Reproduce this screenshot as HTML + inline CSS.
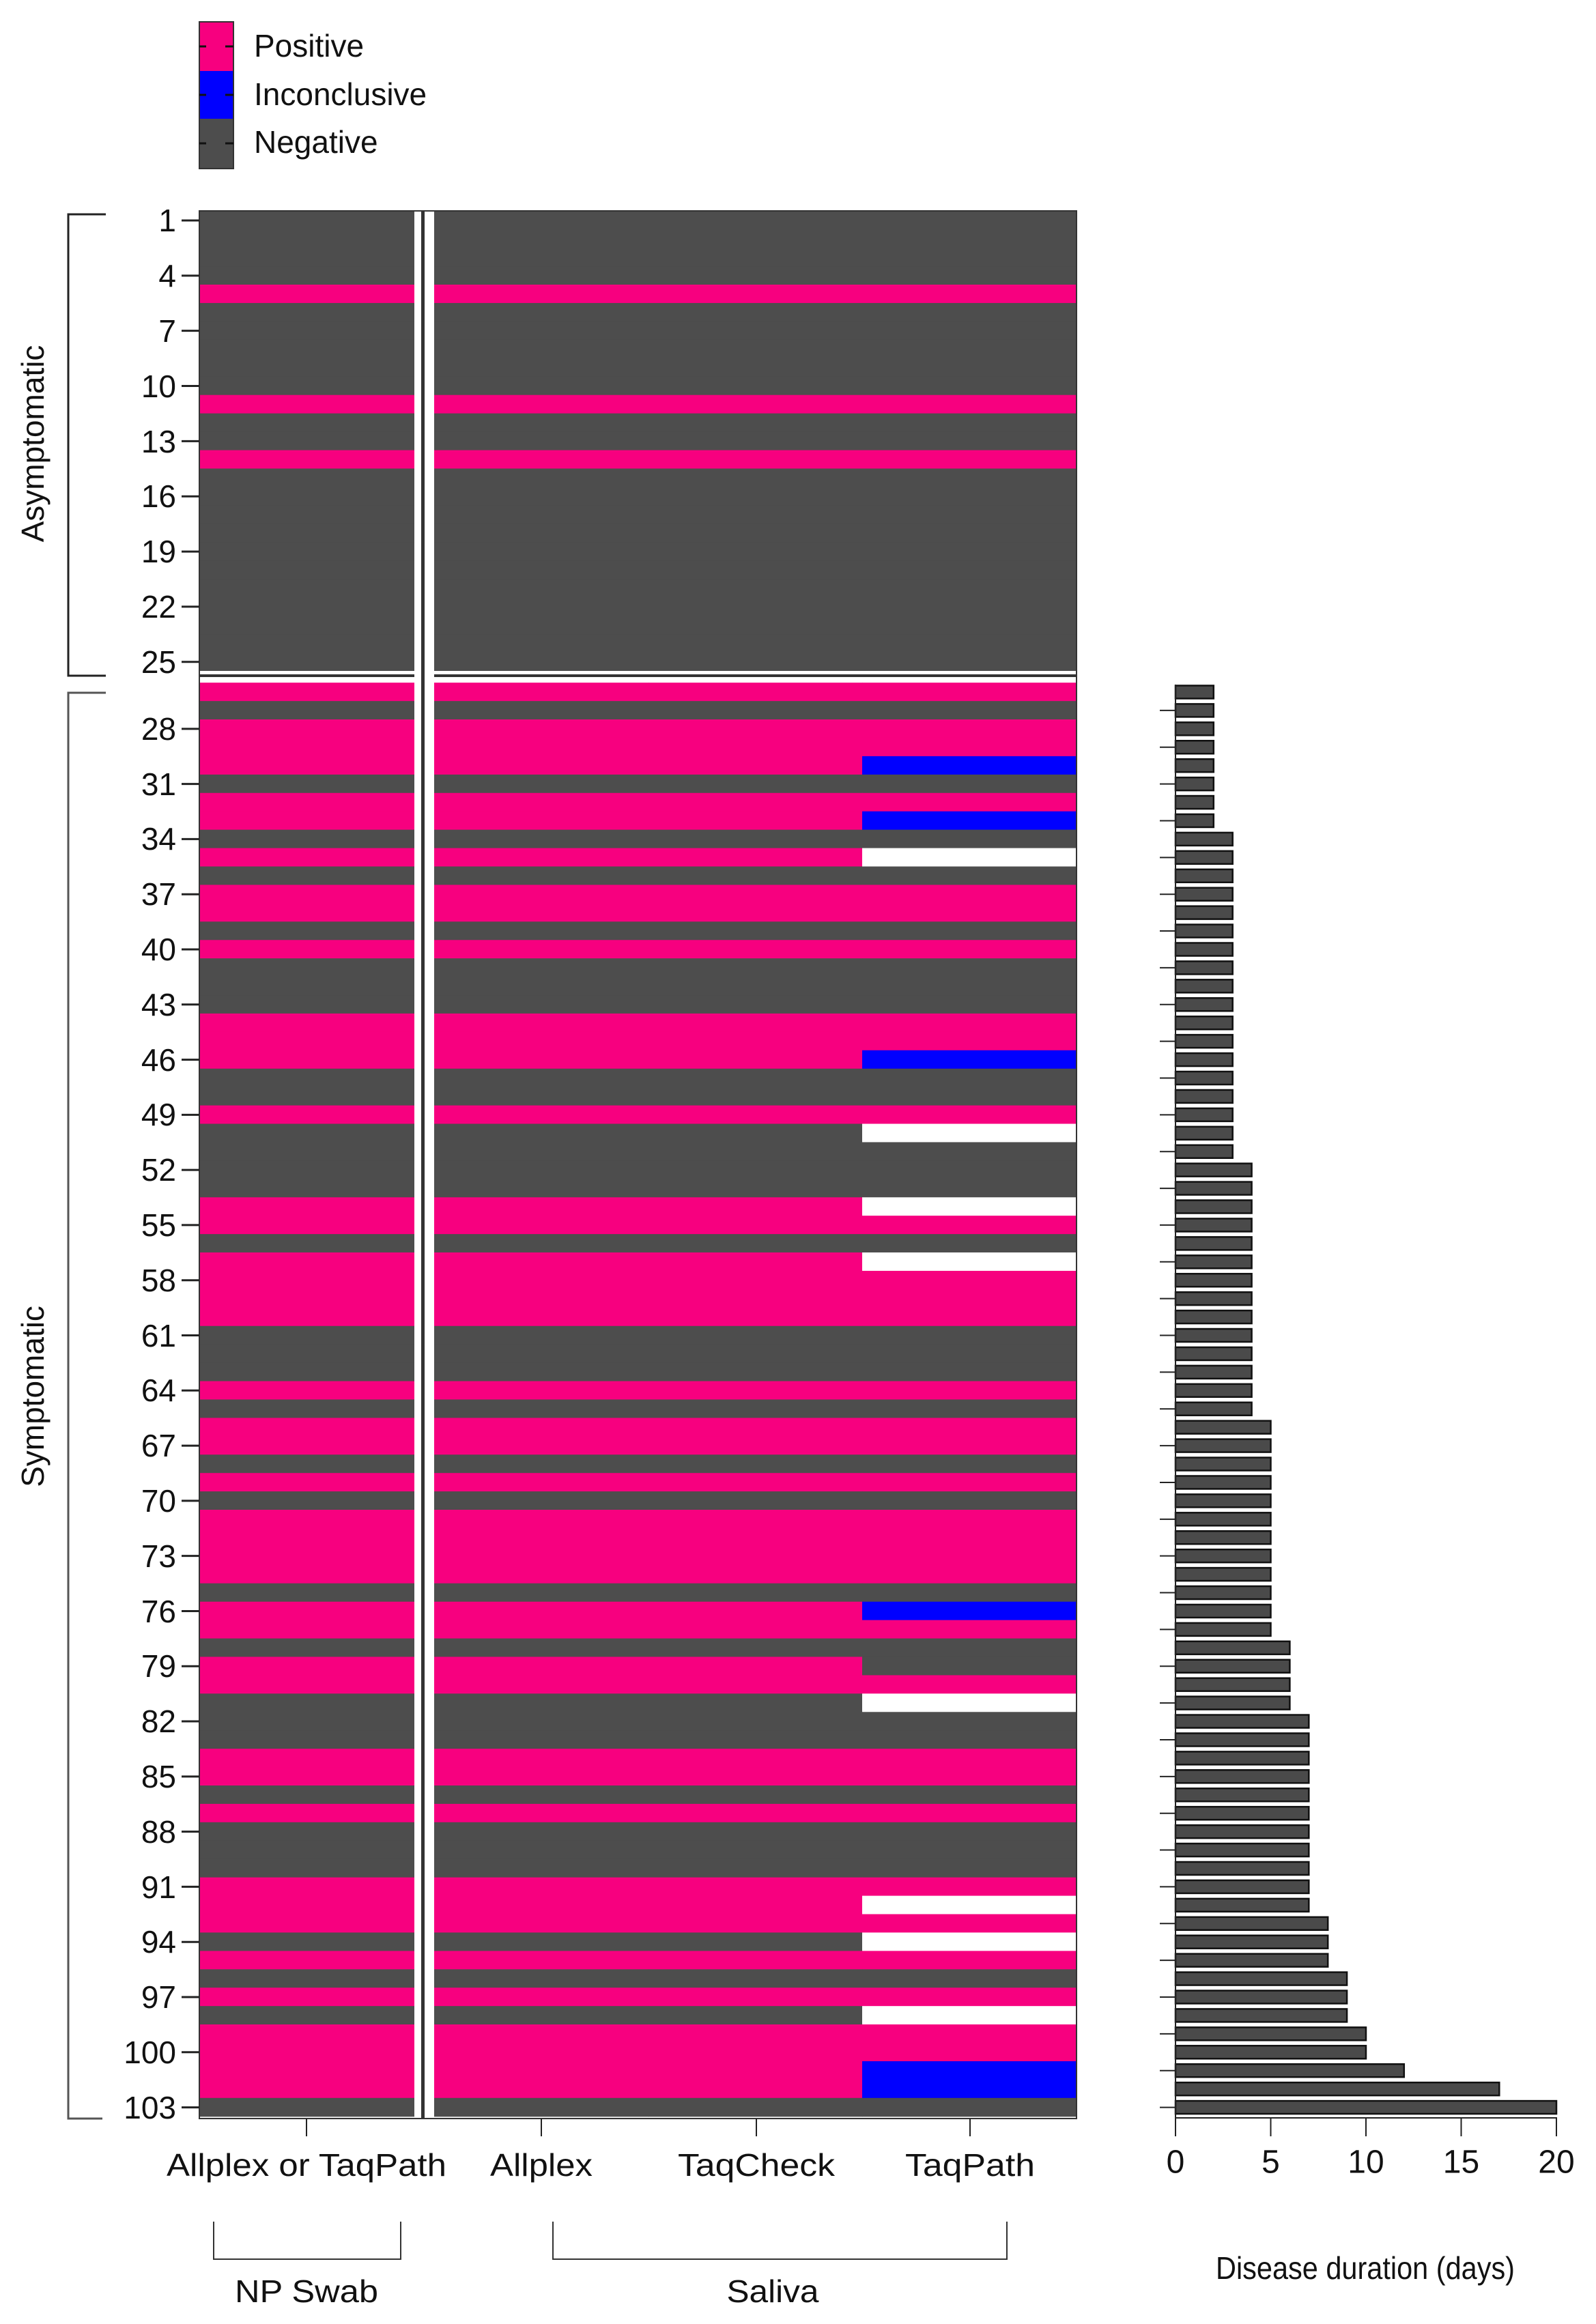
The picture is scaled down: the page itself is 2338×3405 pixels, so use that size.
<!DOCTYPE html>
<html><head><meta charset="utf-8"><style>
html,body{margin:0;padding:0;background:#fff;}
svg{display:block;font-family:"Liberation Sans",Arial,sans-serif;}
</style></head><body>
<svg id="s" width="2338" height="3405" viewBox="0 0 2338 3405" xmlns="http://www.w3.org/2000/svg">
<rect width="2338" height="3405" fill="#fff"/>
<g id="cells"></g>
<g id="bars"></g>
<g id="rticks" stroke="#222" stroke-width="3"></g>
<!-- legend -->
<rect x="292" y="32" width="50" height="72" fill="#F7007F"/>
<rect x="292" y="104" width="50" height="70" fill="#0000FF"/>
<rect x="292" y="174" width="50" height="73" fill="#4D4D4D"/>
<rect x="292" y="32" width="50" height="215" fill="none" stroke="#333" stroke-width="2"/>
<g stroke="#111" stroke-width="3">
<line x1="292" y1="68" x2="302" y2="68"/><line x1="330" y1="68" x2="342" y2="68"/>
<line x1="292" y1="139" x2="302" y2="139"/><line x1="330" y1="139" x2="342" y2="139"/>
<line x1="292" y1="210" x2="302" y2="210"/><line x1="330" y1="210" x2="342" y2="210"/>
</g>
<g font-size="46" fill="#111" dominant-baseline="central">
<text x="372" y="67">Positive</text>
<text x="372" y="138">Inconclusive</text>
<text x="372" y="208">Negative</text>
</g>
<!-- row labels -->
<g font-size="46" fill="#111" text-anchor="end" dominant-baseline="central">
<text x="258" y="323">1</text><text x="258" y="404">4</text><text x="258" y="485">7</text>
<text x="258" y="566">10</text><text x="258" y="647">13</text><text x="258" y="727">16</text>
<text x="258" y="808">19</text><text x="258" y="889">22</text><text x="258" y="970">25</text>
<text x="258" y="1068">28</text><text x="258" y="1149">31</text><text x="258" y="1229">34</text>
<text x="258" y="1310">37</text><text x="258" y="1391">40</text><text x="258" y="1472">43</text>
<text x="258" y="1553">46</text><text x="258" y="1633">49</text><text x="258" y="1714">52</text>
<text x="258" y="1795">55</text><text x="258" y="1876">58</text><text x="258" y="1957">61</text>
<text x="258" y="2037">64</text><text x="258" y="2118">67</text><text x="258" y="2199">70</text>
<text x="258" y="2280">73</text><text x="258" y="2361">76</text><text x="258" y="2441">79</text>
<text x="258" y="2522">82</text><text x="258" y="2603">85</text><text x="258" y="2684">88</text>
<text x="258" y="2765">91</text><text x="258" y="2845">94</text><text x="258" y="2926">97</text>
<text x="258" y="3007">100</text><text x="258" y="3088">103</text>
</g>
<!-- group brackets -->
<g stroke="#222" stroke-width="3" fill="none">
<polyline points="155,314 100,314 100,990 155,990"/>
<polyline points="155,1015 100,1015 100,3104 150,3104" stroke="#555"/>
</g>
<g font-size="46" fill="#111" text-anchor="middle" dominant-baseline="central">
<text transform="translate(48,650) rotate(-90)">Asymptomatic</text>
<text transform="translate(48,2046) rotate(-90)">Symptomatic</text>
</g>
<!-- x tick marks -->
<g stroke="#222" stroke-width="2">
<line x1="449" y1="3104" x2="449" y2="3130"/>
<line x1="793" y1="3104" x2="793" y2="3130"/>
<line x1="1108" y1="3104" x2="1108" y2="3130"/>
<line x1="1421" y1="3104" x2="1421" y2="3130"/>
</g>
<g font-size="46" fill="#111" text-anchor="middle" dominant-baseline="central">
<text x="449" y="3172" textLength="410" lengthAdjust="spacingAndGlyphs">Allplex or TaqPath</text>
<text x="793" y="3172" textLength="150" lengthAdjust="spacingAndGlyphs">Allplex</text>
<text x="1108" y="3172" textLength="230" lengthAdjust="spacingAndGlyphs">TaqCheck</text>
<text x="1421" y="3172" textLength="190" lengthAdjust="spacingAndGlyphs">TaqPath</text>
</g>
<g stroke="#333" stroke-width="2" fill="none">
<polyline points="313,3255 313,3310 587,3310 587,3255"/>
<polyline points="810,3255 810,3310 1475,3310 1475,3255"/>
</g>
<g font-size="46" fill="#111" text-anchor="middle" dominant-baseline="central">
<text x="449" y="3357" textLength="210" lengthAdjust="spacingAndGlyphs">NP Swab</text>
<text x="1132" y="3357" textLength="135" lengthAdjust="spacingAndGlyphs">Saliva</text>
</g>
<!-- bar axis -->
<g stroke="#222" stroke-width="2">
<line x1="1722" y1="1003" x2="1722" y2="3104"/>
<line x1="1722" y1="3103" x2="2281" y2="3103"/>
<line x1="1722" y1="3103" x2="1722" y2="3130"/>
<line x1="1861.5" y1="3103" x2="1861.5" y2="3130"/>
<line x1="2001" y1="3103" x2="2001" y2="3130"/>
<line x1="2140.5" y1="3103" x2="2140.5" y2="3130"/>
<line x1="2280" y1="3103" x2="2280" y2="3130"/>
</g>
<g id="bticks" stroke="#222" stroke-width="2"></g>
<g font-size="48" fill="#111" text-anchor="middle" dominant-baseline="central">
<text x="1722" y="3168">0</text><text x="1861.5" y="3168">5</text><text x="2001" y="3168">10</text>
<text x="2140.5" y="3168">15</text><text x="2280" y="3168">20</text>
<text x="2000" y="3323" font-size="46" textLength="438" lengthAdjust="spacingAndGlyphs">Disease duration (days)</text>
</g>
</svg>
<script>
(function(){
var NS="http://www.w3.org/2000/svg";
var P="#F7007F",B="#0000FF",G="#4D4D4D",W="#FFFFFF";
var pink=[5,11,14,26,28,29,30,32,33,35,37,38,40,44,45,46,49,54,55,57,58,59,60,64,66,67,69,71,72,73,74,76,77,79,80,84,85,87,91,92,93,95,97,99,100,101,102];
var tq={30:B,33:B,35:W,46:B,50:W,54:W,57:W,76:B,79:G,80:P,81:W,92:W,94:W,98:W,101:B,102:B};
function rowY(r){return r<=25?[309.5+(r-1)*26.95,26.95]:[1000.5+(r-26)*26.93,26.93];}
var cells=document.getElementById("cells");
function rect(x,y,w,h,f,g){var e=document.createElementNS(NS,"rect");e.setAttribute("x",x);e.setAttribute("y",y);e.setAttribute("width",w);e.setAttribute("height",h);e.setAttribute("fill",f);(g||cells).appendChild(e);return e;}
function line(g,x1,y1,x2,y2){var l=document.createElementNS(NS,"line");l.setAttribute("x1",x1);l.setAttribute("x2",x2);l.setAttribute("y1",y1);l.setAttribute("y2",y2);g.appendChild(l);}
var cols=[[292,607],[636,950],[950,1263],[1263,1577]];
var rt=document.getElementById("rticks");
for(var r=1;r<=103;r++){
 var yy=rowY(r),base=pink.indexOf(r)>=0?P:G;
 for(var c=0;c<4;c++){
  var f=base; if(c==3&&tq[r])f=tq[r];
  rect(cols[c][0],yy[0]-0.3,cols[c][1]-cols[c][0]+(c<3&&c>0?0.5:0),yy[1]+0.6,f);
 }
 if((r-1)%3==0){var cy=yy[0]+yy[1]/2;line(rt,266,cy,292,cy);}
}
// separators
rect(292,983,1285,17,"#fff");
rect(292,988,1285,4,"#333");
rect(607,309,29,2795,"#fff");
rect(617,309,5,2795,"#333");
var fr=document.createElementNS(NS,"rect");fr.setAttribute("x",292);fr.setAttribute("y",309);fr.setAttribute("width",1285);fr.setAttribute("height",2795);fr.setAttribute("fill","none");fr.setAttribute("stroke","#333");fr.setAttribute("stroke-width","2");cells.appendChild(fr);
// bars
var bars=document.getElementById("bars"),bt=document.getElementById("bticks");
function val(r){if(r<=33)return 2;if(r<=51)return 3;if(r<=65)return 4;if(r<=77)return 5;if(r<=81)return 6;if(r<=92)return 7;if(r<=95)return 8;if(r<=98)return 9;if(r<=100)return 10;if(r==101)return 12;if(r==102)return 17;return 20;}
for(var r=26;r<=103;r++){
 var yy=rowY(r),cy=yy[0]+yy[1]/2,v=val(r);
 var e=rect(1722,cy-9.5,v*27.9,19,"#4A4A4A",bars);e.setAttribute("stroke","#111");e.setAttribute("stroke-width","2.5");
 if((r-27)%2==0){line(bt,1699,cy,1722,cy);}
}
})();
</script>
</body></html>
